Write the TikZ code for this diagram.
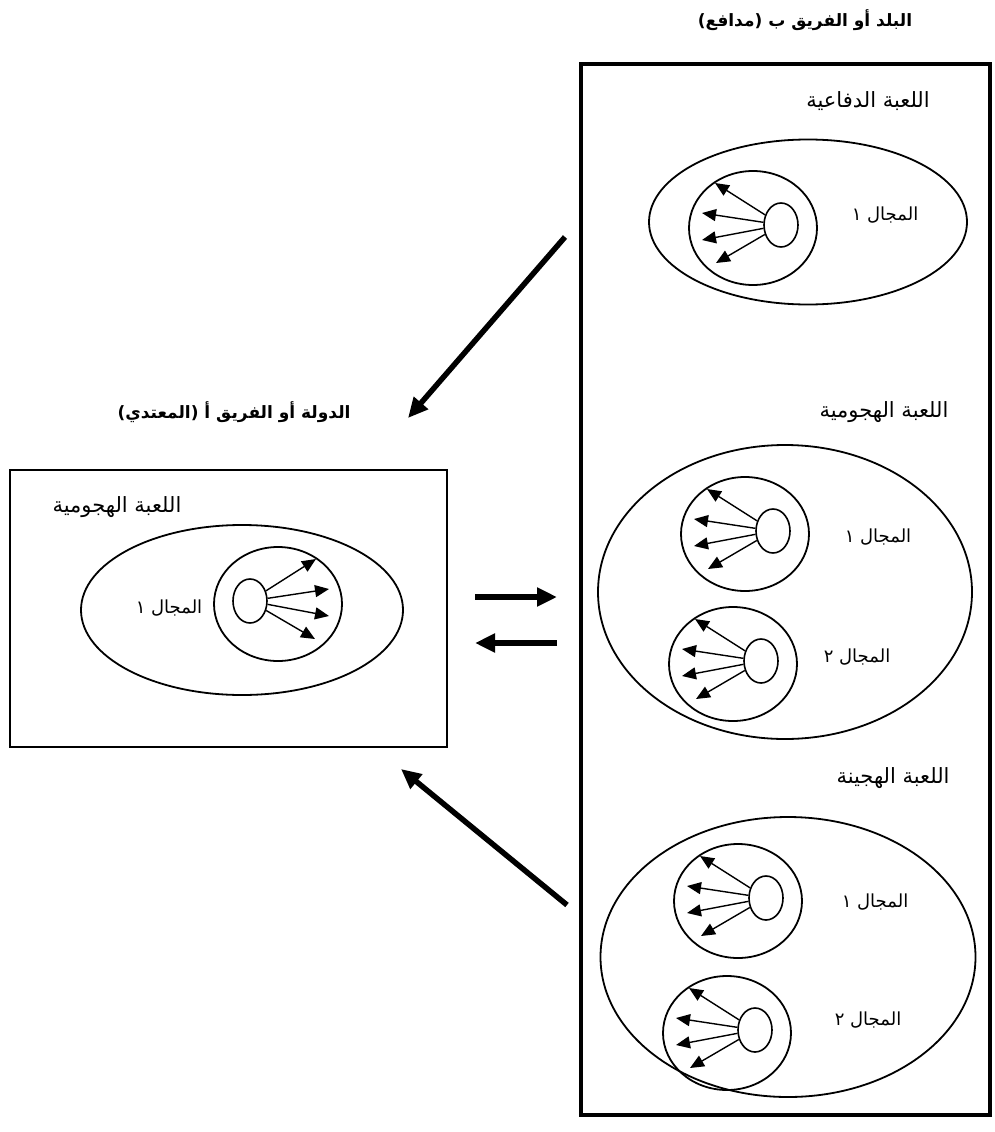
\documentclass[tikz,border=0pt]{standalone}
\usepackage{fontspec}
\usetikzlibrary{shapes.geometric,arrows.meta}
\newfontfamily\arabicfont[Script=Arabic]{DejaVu Sans}
\TeXXeTstate=1
\newcommand{\rtl}[1]{{\arabicfont\beginR #1\endR}}

\begin{document}
\begin{tikzpicture}[x=1pt, y=-1pt,
    every node/.style = {inner sep=0pt},
    frame/.style = {draw, rectangle},
    zone/.style = {draw, ellipse, line width=1.8pt},
    ring/.style = {draw, ellipse, line width=1.8pt,
      minimum width=128pt, minimum height=114pt},
    core/.style = {draw, ellipse, line width=1.6pt,
      minimum width=34pt, minimum height=44pt},
    spoke/.style = {line width=1.4pt, -{Triangle[length=14pt, width=12pt]}},
    flow/.style = {line width=5.5pt, -{Triangle[length=20pt, width=18pt]}},
    title/.style = {font=\bfseries\fontsize{17}{20}\selectfont},
    head/.style = {font=\fontsize{21}{24}\selectfont},
    lbl/.style = {font=\fontsize{18}{21}\selectfont},
    pics/field/.style = {code={
      \node[ring] (-c) at (0,0) {};
      \node[core] (-s) at (#1*-28,-3) {};
      \foreach \tx/\ty [count=\i] in {38/-45, 51/-15, 51/12, 37/35} {
        \coordinate (-t\i) at (#1*\tx,\ty);
        \draw[spoke] (-s) -- (-t\i);
      }
    }}]
  \useasboundingbox (0,0) rectangle (994,1132);

  % the two teams
  \node[frame, line width=3.5pt, minimum width=409pt, minimum height=1051pt]
    (teamB) at (785.5,589.5) {};
  \node[frame, line width=2.5pt, minimum width=437pt, minimum height=277pt]
    (teamA) at (228.5,608.5) {};
  \node[title] (titleB) at (805,20) {\rtl{البلد أو الفريق ب (مدافع)}};
  \node[title] (titleA) at (234,412) {\rtl{الدولة أو الفريق أ (المعتدي)}};

  % games
  \node[head] (hDef) at (868,101) {\rtl{اللعبة الدفاعية}};
  \node[head] (hAttB) at (884,412) {\rtl{اللعبة الهجومية}};
  \node[head] (hHyb) at (893,778) {\rtl{اللعبة الهجينة}};
  \node[head] (hAttA) at (117,507) {\rtl{اللعبة الهجومية}};

  \node[zone, minimum width=318pt, minimum height=165pt] (zDef) at (808,222) {};
  \node[zone, minimum width=374pt, minimum height=294pt] (zAttB) at (785,592) {};
  \node[zone, minimum width=375pt, minimum height=280pt] (zHyb) at (788,957) {};
  \node[zone, minimum width=322pt, minimum height=170pt] (zAttA) at (242,610) {};

  % fields
  \pic (d1) at (753,228) {field=-1};
  \pic (a1) at (745,534) {field=-1};
  \pic (a2) at (733,664) {field=-1};
  \pic (h1) at (738,901) {field=-1};
  \pic (h2) at (727,1033) {field=-1};
  \pic (o1) at (278,604) {field=1};

  \node[lbl] (lD1) at (885,215) {\rtl{المجال ١}};
  \node[lbl] (lA1) at (878,537) {\rtl{المجال ١}};
  \node[lbl] (lA2) at (857,657) {\rtl{المجال ٢}};
  \node[lbl] (lH1) at (875,902) {\rtl{المجال ١}};
  \node[lbl] (lH2) at (868,1020) {\rtl{المجال ٢}};
  \node[lbl] (lO1) at (169,608) {\rtl{المجال ١}};

  % moves between the teams
  \coordinate (outB) at (565,237);
  \coordinate (inA) at (408,418);
  \coordinate (backB) at (567,905);
  \coordinate (backA) at (401,769);
  \coordinate (xA) at (475,597);
  \coordinate (xB) at (557,597);
  \coordinate (yB) at (557,643);
  \coordinate (yA) at (475,643);
  \draw[flow] (outB) -- (inA);
  \draw[flow] (backB) -- (backA);
  \draw[flow] (xA) -- (xB);
  \draw[flow] (yB) -- (yA);
\end{tikzpicture}
\end{document}
